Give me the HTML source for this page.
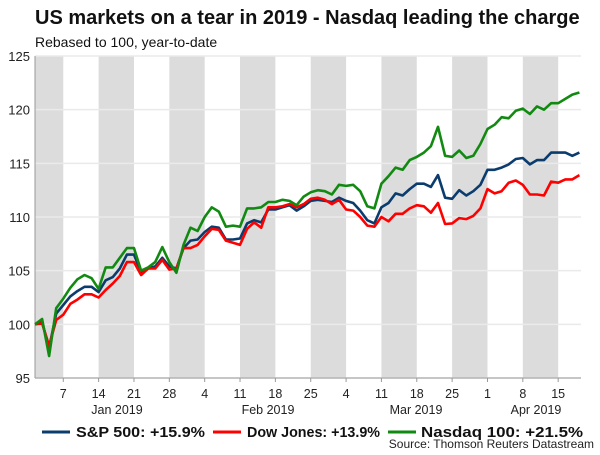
<!DOCTYPE html>
<html><head><meta charset="utf-8"><style>
body{margin:0;background:#fff;font-family:"Liberation Sans",Arial,sans-serif}
svg text{font-family:"Liberation Sans",Arial,sans-serif}
</style></head><body>
<svg id="c" width="600" height="450" xmlns="http://www.w3.org/2000/svg">
<text x="35" y="24" font-size="20" font-weight="bold" fill="#111">US markets on a tear in 2019 - Nasdaq leading the charge</text>
<text x="35" y="47" font-size="14" fill="#111">Rebased to 100, year-to-date</text>
<g id="bands"></g><g id="grid"></g><g id="axes"></g><g id="series"></g>
<g>
<line x1="42" y1="432" x2="70" y2="432" stroke="#0b3c6e" stroke-width="3"/>
<text x="76" y="437" font-size="15" font-weight="bold" fill="#111" textLength="129" lengthAdjust="spacingAndGlyphs">S&amp;P 500: +15.9%</text>
<line x1="213" y1="432" x2="241" y2="432" stroke="#ff0000" stroke-width="3"/>
<text x="247" y="437" font-size="15" font-weight="bold" fill="#111" textLength="133" lengthAdjust="spacingAndGlyphs">Dow Jones: +13.9%</text>
<line x1="388" y1="432" x2="416" y2="432" stroke="#128a12" stroke-width="3"/>
<text x="421" y="437" font-size="15" font-weight="bold" fill="#111" textLength="162" lengthAdjust="spacingAndGlyphs">Nasdaq 100: +21.5%</text>
</g>
<text x="594" y="448" font-size="12" fill="#222" text-anchor="end">Source: Thomson Reuters Datastream</text>
</svg>
<script>
const dayLabels=["7","14","21","28","4","11","18","25","4","11","18","25","1","8","15"];
const monthLabels=["Jan 2019","Feb 2019","Mar 2019","Apr 2019"];
const yTicks=[95,100,105,110,115,120,125];
const sp500=[100,100.2,97.8,101,101.8,102.6,103.1,103.5,103.5,103.0,104.1,104.4,105.2,106.5,106.5,104.8,105.2,105.4,106.2,105.4,105.2,107.1,107.8,107.9,108.6,109.1,109.0,107.9,107.9,108.0,109.4,109.7,109.5,110.7,110.7,110.9,111.1,110.6,111.0,111.5,111.6,111.5,111.4,111.8,111.5,111.3,110.6,109.7,109.4,110.9,111.3,112.2,112.0,112.6,113.1,113.1,112.8,113.9,111.8,111.7,112.5,112.0,112.4,113.0,114.4,114.4,114.6,114.9,115.4,115.5,114.9,115.3,115.3,116.0,116.0,116.0,115.7,116.0];
const dow=[100,100.1,98,100.4,100.9,101.9,102.3,102.8,102.8,102.5,103.2,103.8,104.5,105.8,105.8,104.6,105.2,105.2,106.0,105.1,105.2,107.1,107.1,107.4,108.2,108.9,108.8,107.8,107.6,107.4,108.9,109.5,109.0,110.9,110.9,111.0,111.2,110.9,111.2,111.7,111.8,111.6,111.2,111.6,110.7,110.6,110.0,109.2,109.1,110.0,109.6,110.3,110.3,110.8,111.1,111.0,110.4,111.3,109.35,109.4,109.9,109.8,110.1,110.8,112.6,112.2,112.4,113.2,113.4,113.0,112.1,112.1,112.0,113.3,113.2,113.5,113.5,113.9];
const nasdaq=[100,100.5,97.05,101.5,102.4,103.4,104.2,104.6,104.3,103.3,105.3,105.3,106.2,107.1,107.1,105.0,105.3,105.8,107.2,105.8,104.8,107.4,109.0,108.7,110.0,110.9,110.5,109.1,109.2,109.1,110.8,110.8,110.9,111.4,111.4,111.6,111.5,111.1,111.9,112.3,112.5,112.4,112.1,113.0,112.9,113.0,112.4,111.0,110.8,113.1,113.8,114.6,114.4,115.3,115.6,116.0,116.6,118.4,115.7,115.6,116.2,115.5,115.7,116.8,118.2,118.6,119.3,119.2,119.9,120.1,119.6,120.3,120.0,120.6,120.6,121.0,121.4,121.6];
const NS="http://www.w3.org/2000/svg";
const X0=35,X1=581,Y0=378,Y1=56,STEP=7.07;
const xs=i=>X0+i*STEP, ys=v=>Y0-(v-95)/(125-95)*(Y0-Y1);
function mk(t,a,p){const e=document.createElementNS(NS,t);for(const k in a)e.setAttribute(k,a[k]);p.appendChild(e);return e;}
const bands=document.getElementById('bands'),grid=document.getElementById('grid'),axes=document.getElementById('axes'),ser=document.getElementById('series');
const ticks=[];for(let i=4;i<sp500.length;i+=5)ticks.push(i);
const edges=[0,...ticks,sp500.length-1+0.2];
for(let k=0;k<edges.length-1;k+=2){
 const b=mk('rect',{x:xs(edges[k]),y:Y1,width:Math.min(xs(edges[k+1]),X1)-xs(edges[k]),height:Y0-Y1,fill:'#dcdcdc'},bands);
 
 
}
yTicks.forEach(v=>{
 const l=mk('line',{x1:X0,x2:X1,y1:ys(v),y2:ys(v),stroke:'#eaeaea','stroke-width':1.5},grid);
 
 
 const t=mk('text',{x:30,y:ys(v)+5,'font-size':13,'text-anchor':'end',fill:'#222'},axes);
 
 
 t.textContent=v;
});
mk('line',{x1:X0,x2:X0,y1:Y1,y2:Y0,stroke:'#999'},axes);
mk('line',{x1:X0,x2:X1,y1:Y0,y2:Y0,stroke:'#999'},axes);
ticks.forEach(i=>mk('line',{x1:xs(i),x2:xs(i),y1:Y0,y2:Y0+4,stroke:'#999'},axes));
dayLabels.forEach((d,k)=>{
 const t=mk('text',{x:xs(ticks[k]),y:398,'font-size':12.5,'text-anchor':'middle',fill:'#222'},axes);
 
 
 t.textContent=d;
});
const mx=[117,268,416,536];
monthLabels.forEach((m,k)=>{
 const t=mk('text',{x:mx[k],y:414,'font-size':12.5,'text-anchor':'middle',fill:'#222'},axes);
 
 
 t.textContent=m;
});
[[sp500,'#0b3c6e','sp500-line'],[dow,'#ff0000','dow-line'],[nasdaq,'#128a12','nasdaq-line']].forEach(([d,c,n])=>{
 const p=mk('polyline',{points:d.map((v,i)=>xs(i).toFixed(1)+','+ys(v).toFixed(1)).join(' '),fill:'none',stroke:c,'stroke-width':2.6,'stroke-linejoin':'round'},ser);
 
 
});
</script>
</body></html>
